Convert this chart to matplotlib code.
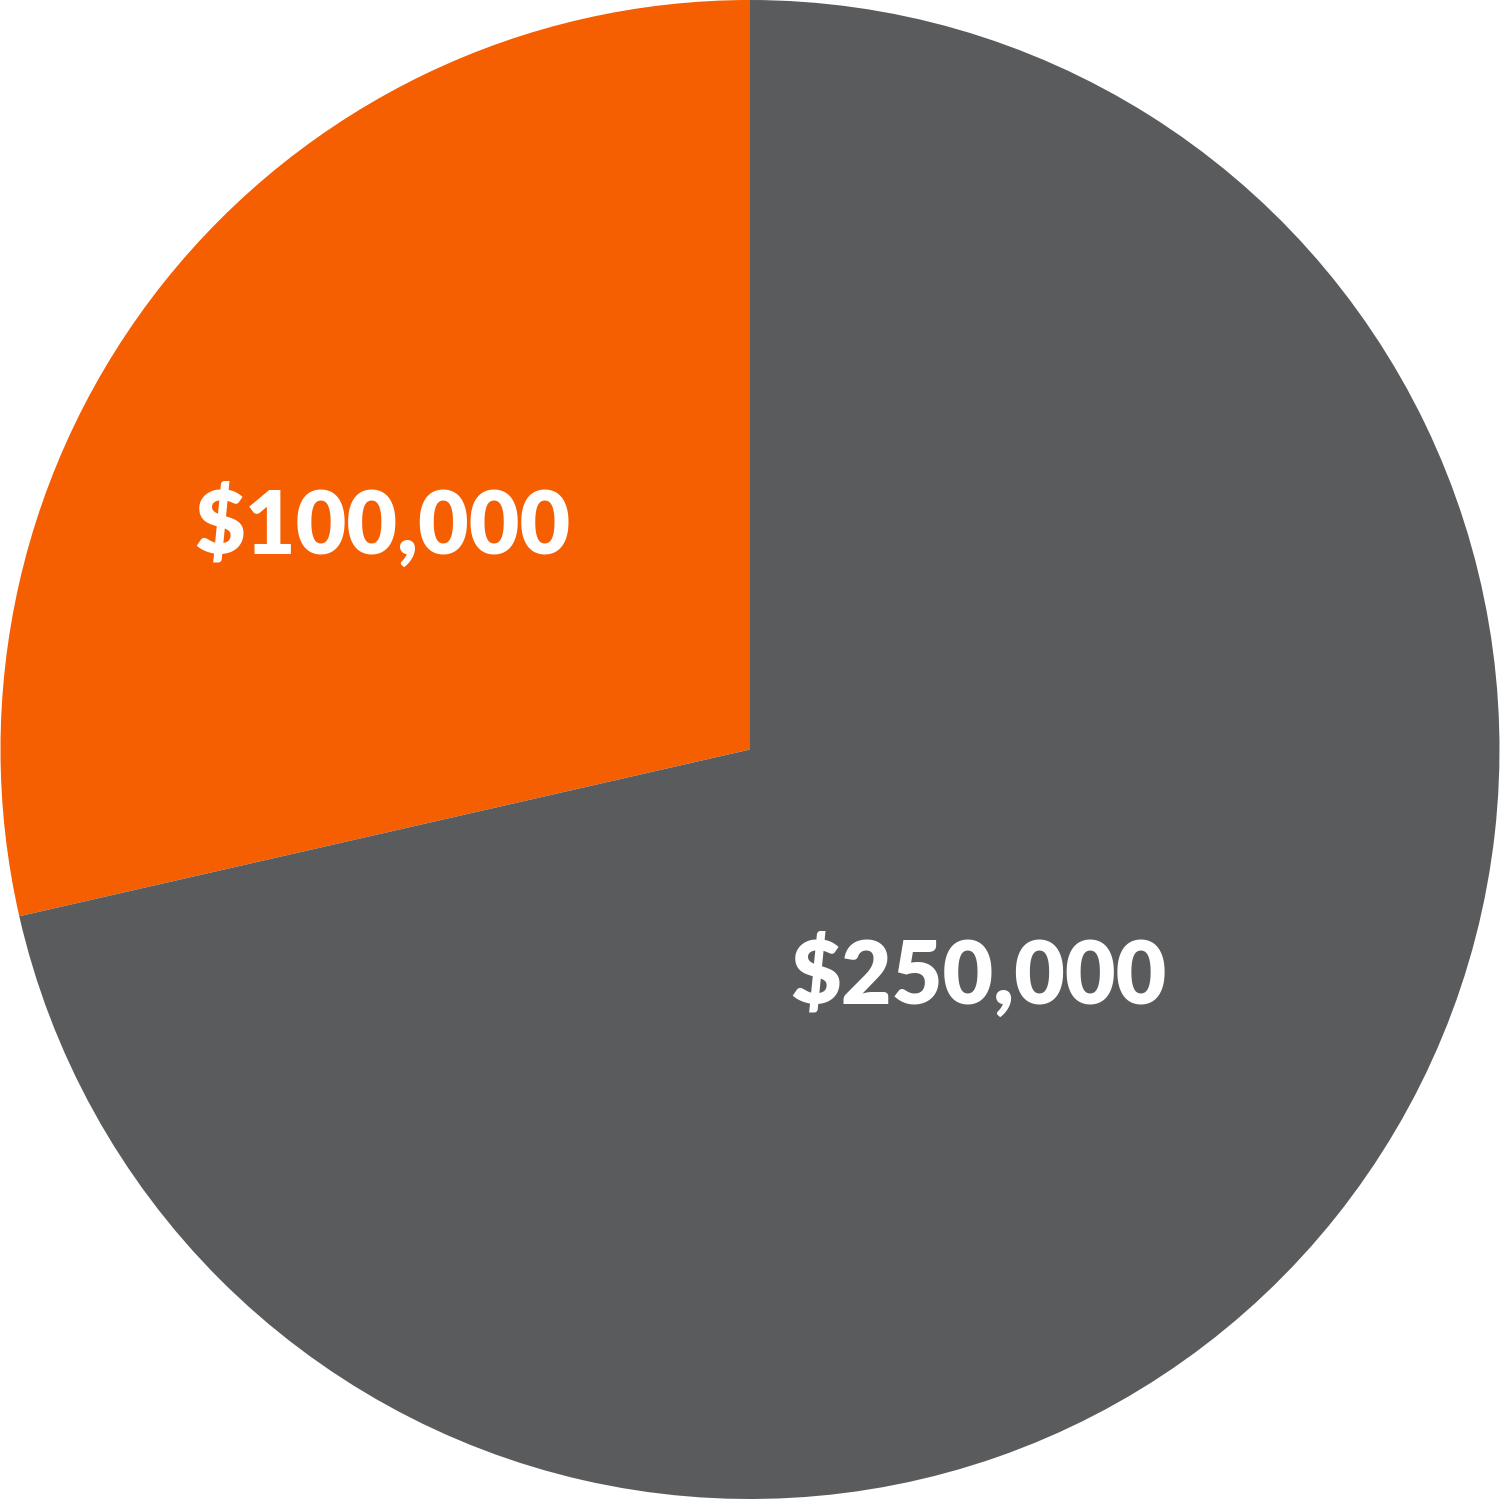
import matplotlib
matplotlib.use("Agg")
import matplotlib.pyplot as plt

labels = ["$100,000", "$250,000"]
values = [100000, 250000]
colors = ["#F55E01", "#5A5B5D"]

fig = plt.figure(figsize=(15, 14.99), dpi=100)
ax = fig.add_axes([0, 0, 1, 1])
wedges, _ = ax.pie(values, colors=colors, startangle=90, counterclock=True,
                   radius=1.0, wedgeprops=dict(linewidth=0))
ax.set_xlim(-1.0, 1.0)
ax.set_ylim(-1.0, 1.0)
ax.set_aspect("equal")
ax.axis("off")

label_pos = [(-0.49, 0.298), (0.305, -0.302)]
for lab, (x, y) in zip(labels, label_pos):
    ax.text(x, y, lab, color="white", fontsize=63, fontweight="heavy",
            family=["Lato", "DejaVu Sans"], ha="center", va="center")

fig.savefig("out.png", dpi=100)
